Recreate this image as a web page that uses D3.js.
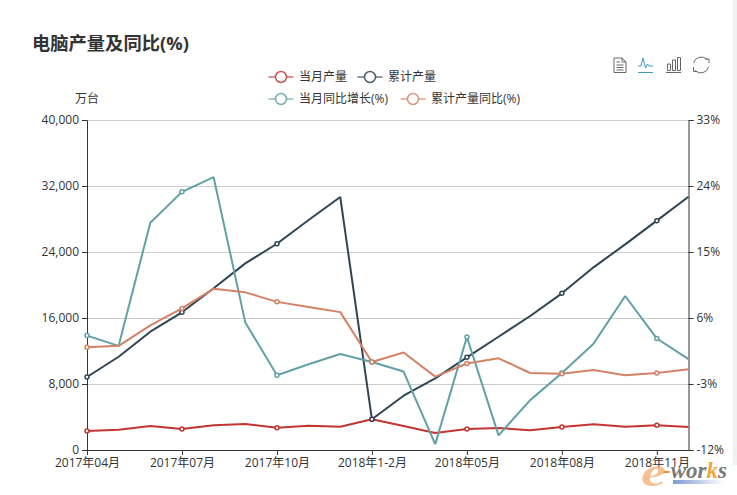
<!DOCTYPE html>
<html>
<head>
<meta charset="utf-8">
<script src="https://cdnjs.cloudflare.com/ajax/libs/d3/7.8.5/d3.min.js"></script>
<style>
  html, body { margin: 0; padding: 0; background: #fff; overflow: hidden; }
  text { font-family: "Open Sans", "Noto Sans CJK SC", sans-serif; }
</style>
</head>
<body>
<div id="chart"></div>
<script>
const months = ['2017年04月','2017年05月','2017年06月','2017年07月','2017年08月','2017年09月','2017年10月','2017年11月','2017年12月','2018年1-2月','2018年03月','2018年04月','2018年05月','2018年06月','2018年07月','2018年08月','2018年09月','2018年10月','2018年11月','2018年12月'];

const monthlyOutput = [2300,2460,2900,2545,2990,3150,2700,2950,2830,3720,2900,2050,2540,2670,2390,2790,3110,2830,2990,2790];
const totalOutput = [8850,11300,14340,16690,19600,22620,25000,27880,30660,3720,6580,8690,11230,13730,16240,18990,22140,24930,27800,30700];
const monthlyYoy = [3.6,2.2,19.0,23.2,25.2,5.4,-1.8,-0.3,1.1,0.0,-1.3,-11.2,3.4,-10.0,-5.2,-1.5,2.5,9.0,3.2,0.4];
const totalYoy = [2.0,2.2,5.0,7.3,10.0,9.5,8.2,7.5,6.8,0.0,1.3,-2.0,-0.2,0.5,-1.5,-1.6,-1.1,-1.8,-1.5,-1.0];

const leftTicks = [0,8000,16000,24000,32000,40000];
const rightTicks = [-12,-3,6,15,24,33];

const width = 737, height = 495;
const margin = {top: 120, right: 48.5, bottom: 45, left: 87};

const svg = d3.select("#chart").append("svg")
    .attr("width", width)
    .attr("height", height)
    .style("display", "block");

const x = d3.scalePoint().domain(months).range([margin.left, width - margin.right]);
const yLeft = d3.scaleLinear().domain([0, 40000]).range([height - margin.bottom, margin.top]);
const yRight = d3.scaleLinear().domain([-12, 33]).range([height - margin.bottom, margin.top]);

// Gridlines
svg.append("g").selectAll("line")
    .data(leftTicks.slice(1))
    .enter().append("line")
    .attr("x1", margin.left).attr("x2", width - margin.right)
    .attr("y1", d => yLeft(d) + 0.5).attr("y2", d => yLeft(d) + 0.5)
    .attr("stroke", "#ccc");

// Axes
const axisColor = "#333";
function styleAxis(g) {
    g.selectAll("path, line").attr("stroke", axisColor);
    g.selectAll("text").attr("fill", axisColor).attr("font-size", 12)
        .style("font-family", '"Open Sans", "Noto Sans CJK SC", sans-serif');
}
svg.append("g")
    .attr("transform", `translate(${margin.left},0)`)
    .call(d3.axisLeft(yLeft).tickValues(leftTicks).tickFormat(d3.format(",")).tickSize(5).tickSizeOuter(5))
    .call(styleAxis);
svg.append("g")
    .attr("transform", `translate(${width - margin.right},0)`)
    .call(d3.axisRight(yRight).tickValues(rightTicks).tickFormat(d => d + "%").tickSize(5).tickSizeOuter(5))
    .call(styleAxis);
svg.append("g")
    .attr("transform", `translate(0,${height - margin.bottom})`)
    .call(d3.axisBottom(x).tickValues(months.filter((d, i) => i % 3 === 0)).tickSize(5).tickSizeOuter(0))
    .call(styleAxis);

// Series
const series = [
    {name: '当月产量', values: monthlyOutput, color: '#c23531', y: yLeft, legend: [281, 77]},
    {name: '累计产量', values: totalOutput, color: '#2f4554', y: yLeft, legend: [370, 77]},
    {name: '当月同比增长(%)', values: monthlyYoy, color: '#61a0a8', y: yRight, legend: [281, 99]},
    {name: '累计产量同比(%)', values: totalYoy, color: '#d48265', y: yRight, legend: [413, 99]}
];

// the peak-to-January break in the cumulative line is part of the data, so one path per series
series.forEach(s => {
    const line = d3.line().x((d, i) => x(months[i])).y(d => s.y(d));
    svg.append("path")
        .attr("d", line(s.values))
        .attr("fill", "none")
        .attr("stroke", s.color)
        .attr("stroke-width", 2)
        .attr("stroke-linejoin", "bevel");
});

// Only every third point keeps a symbol
series.forEach(s => {
    svg.append("g").selectAll("circle")
        .data(s.values.map((v, i) => ({v, i})).filter(d => d.i % 3 === 0))
        .enter().append("circle")
        .attr("cx", d => x(months[d.i]))
        .attr("cy", d => s.y(d.v))
        .attr("r", 2)
        .attr("fill", "#fff")
        .attr("stroke", s.color)
        .attr("stroke-width", 1.5);
});

// Legend
const legend = svg.append("g").selectAll("g")
    .data(series)
    .enter().append("g")
    .attr("transform", d => `translate(${d.legend[0]},${d.legend[1]})`);
legend.append("line")
    .attr("x1", -12.5).attr("x2", 12.5)
    .attr("stroke", d => d.color)
    .attr("stroke-width", 2)
    .attr("stroke-opacity", 0.55);
legend.append("circle")
    .attr("r", 5.5)
    .attr("fill", "#fff")
    .attr("stroke", d => d.color)
    .attr("stroke-width", 1.5)
    .attr("stroke-opacity", 0.85);
legend.append("text")
    .attr("x", 18)
    .attr("dy", "0.35em")
    .attr("font-size", 12)
    .attr("fill", "#333")
    .text(d => d.name);

// Title and unit
svg.append("text")
    .attr("x", 32).attr("y", 50)
    .attr("font-size", 18.3).attr("font-weight", "bold")
    .attr("fill", "#333")
    .text("电脑产量及同比(%)");
svg.append("text")
    .attr("x", 87).attr("y", 103)
    .attr("text-anchor", "middle")
    .attr("font-size", 12)
    .attr("fill", "#333")
    .text("万台");

// Toolbox icons
const toolbox = svg.append("g").attr("fill", "none").attr("stroke", "#666").attr("stroke-width", 1);
toolbox.append("path").attr("d", "M614 58H622L626 62V72.5H614ZM622 58V62H626M616.5 62H620M616.5 65H623.5M616.5 67.5H623.5M616.5 70H623.5");
toolbox.append("path").attr("stroke", "#3e98c5").attr("d", "M638 66H641L643 58L645.5 68L647.5 64L649 66H653M638 72.5H653");
toolbox.append("path").attr("d", "M666 72.5H681M667.5 64H670.5V70.5H667.5ZM672.5 60H675.5V70.5H672.5ZM677.5 57.5H680.5V70.5H677.5Z");
toolbox.append("path").attr("d", "M693.5 63A8 8 0 0 1 707 59.5M709 63V59H705M708.5 67A8 8 0 0 1 695 70.5M693.5 67V71.5H697.5");

// Watermark
const mark = svg.append("g");
mark.append("text")
    .attr("transform", "translate(641,486) scale(1.35,1)")
    .attr("font-size", 42).attr("font-style", "italic").attr("font-weight", "bold")
    .attr("fill", "#f5b584")
    .attr("opacity", 0.85)
    .style("font-family", '"Liberation Serif", serif')
    .text("e");
const markWord = mark.append("text")
    .attr("x", 663).attr("y", 478)
    .attr("font-size", 23).attr("font-style", "italic").attr("font-weight", "bold")
    .attr("fill", "#7a7a7a")
    .style("font-family", '"Liberation Serif", serif');
markWord.append("tspan").attr("fill", "#e88f3c").text("-");
markWord.append("tspan").text("wor");
markWord.append("tspan").attr("fill", "#f0a63c").text("k");
markWord.append("tspan").text("s");
const defs = svg.append("defs").append("linearGradient").attr("id", "markBar");
defs.append("stop").attr("offset", "0").attr("stop-color", "#7f9bd0");
defs.append("stop").attr("offset", "1").attr("stop-color", "#ffffff");
mark.append("rect").attr("x", 673).attr("y", 480).attr("width", 52).attr("height", 4).attr("fill", "url(#markBar)");

// Page scrollbar edge
svg.append("rect").attr("x", 733).attr("y", 0).attr("width", 4).attr("height", 465).attr("fill", "#f0f0f0");
</script>
</body>
</html>
